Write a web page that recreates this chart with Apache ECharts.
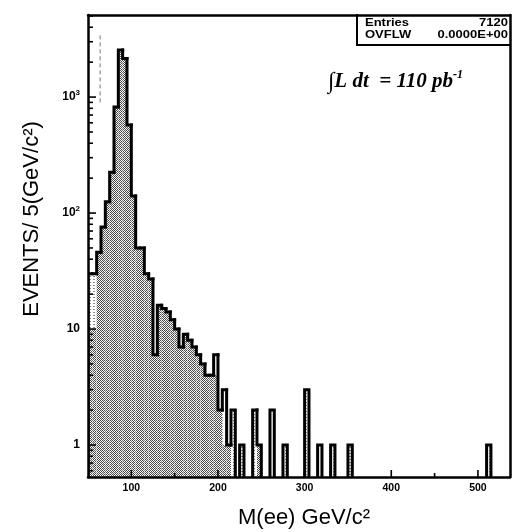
<!DOCTYPE html>
<html><head><meta charset="utf-8">
<script src="https://cdn.jsdelivr.net/npm/echarts@6/dist/echarts.min.js"></script>
<style>html,body{margin:0;padding:0;background:#fff}#c{width:513px;height:532px}</style>
</head><body><div id="c"></div>
<script>
// ---- data ----
const binWidth = 5;               // GeV per bin
const binLow = [50,55,60,65,70,75,80,85,90,95,100,105,110,115,120,125,130,135,140,145,150,155,160,165,170,175,180,185,190,195,200,205,210,215,225,240,245,260,275,300,315,330,350,510];
const totalCounts = [30,30,46,76,125,225,820,2540,2150,575,140,50,50,30,27,6,16,15,14,12,10,7,9,8,7,6,5,4,4,6,2,3,1,2,1,2,1,2,1,3,1,1,1,1];
const subsetCounts = [10,10,46,76,125,225,820,2540,2150,575,140,50,50,30,27,6,16,15,14,12,10,7,9,8,7,6,5,4,4,4,2,1,1,0,0,0,1,0,0,0,0,0,0,0];
const xTickLabels = [100,200,300,400,500];
const xMinorTicks = [150,250,350,450];
const yMajorTicks = [1,10,100,1000];
const yMinorTicks = [0.6,0.7,0.8,0.9,2,3,4,5,6,7,8,9,20,30,40,50,60,70,80,90,200,300,400,500,600,700,800,900,2000,3000,4000,5000];
const cutLine = [[64,900],[64,3600]];
const xMin = 50, xMax = 537, yMin = 0.53, yMax = 5100;

// ---- patterns ----
function makePattern(w,h,draw){const c=document.createElement('canvas');c.width=w;c.height=h;const g=c.getContext('2d');draw(g);return c;}
const stipple = makePattern(4,4,g=>{g.fillStyle='#fff';g.fillRect(0,0,4,4);g.fillStyle='#4a4a4a';
  for(let y=0;y<4;y++)for(let x=0;x<4;x++)if((x+y)%2===0)g.fillRect(x,y,1,1);
  g.fillStyle='#d8d8d8';g.fillRect(1,2,1,1);g.fillRect(3,0,1,1);});
const hatch = makePattern(4,3,g=>{g.fillStyle='#fff';g.fillRect(0,0,4,3);g.fillStyle='#8a8a8a';g.fillRect(1,0,2,1);});

// build histogram items: [low, total, subset, prevTotal, nextTotal]
const totalByLow = {};
binLow.forEach((b,i)=>{totalByLow[b]=totalCounts[i];});
const histData = binLow.map((b,i)=>[b,totalCounts[i],subsetCounts[i],totalByLow[b-binWidth]||0,totalByLow[b+binWidth]||0]);

function yPix(api,lo,v,yb){return v>0?api.coord([lo,v])[1]:yb;}

const chart = echarts.init(document.getElementById('c'),null,{renderer:'canvas'});
const axisLineStyle = {color:'#000',width:2.5};
chart.setOption({
  animation:false,
  backgroundColor:'#fff',
  grid:{left:88,right:3,top:15,bottom:55,outerBoundsMode:'none',containLabel:false},
  xAxis:[{
    type:'value',min:xMin,max:xMax,position:'bottom',splitNumber:5,z:10,
    axisLine:{show:true,onZero:false,lineStyle:axisLineStyle},
    axisTick:{show:false},minorTick:{show:false},splitLine:{show:false},
    axisLabel:{color:'#000',fontWeight:'bold',fontSize:10.5,fontFamily:'Liberation Sans',margin:6,
      formatter:v=>{const r=Math.round(v);return (Math.abs(v-r)<1e-6&&xTickLabels.indexOf(r)>=0)?String(r):'';}}
  },{
    type:'value',min:xMin,max:xMax,position:'top',z:10,
    axisLine:{show:true,onZero:false,lineStyle:axisLineStyle},
    axisTick:{show:false},axisLabel:{show:false},splitLine:{show:false}
  }],
  yAxis:[{
    type:'log',logBase:10,min:yMin,max:yMax,position:'left',z:10,
    axisLine:{show:true,onZero:false,lineStyle:axisLineStyle},
    axisTick:{show:false},minorTick:{show:false},splitLine:{show:false},minorSplitLine:{show:false},
    axisLabel:{color:'#000',fontWeight:'bold',fontSize:12,fontFamily:'Liberation Sans',margin:8,
      formatter:v=>{const e=Math.log10(v),r=Math.round(e);if(Math.abs(e-r)>1e-6)return '';if(r===0)return '1';if(r===1)return '10';return '10{s|'+r+'}';},
      rich:{s:{fontSize:8,fontWeight:'bold',fontFamily:'Liberation Sans',verticalAlign:'top',padding:[0,0,8,0]}}}
  },{
    type:'log',logBase:10,min:yMin,max:yMax,position:'right',z:10,
    axisLine:{show:true,onZero:false,lineStyle:axisLineStyle},
    axisTick:{show:false},axisLabel:{show:false},splitLine:{show:false}
  }],
  series:[
    { // fills
      type:'custom',xAxisIndex:0,yAxisIndex:0,clip:true,z:2,data:histData,encode:{x:0,y:1},
      renderItem:(params,api)=>{
        const lo=api.value(0),tot=api.value(1),sub=api.value(2);
        const yb=api.coord([lo,yMin])[1];
        const x0=api.coord([lo,1])[0],x1=api.coord([lo+binWidth,1])[0];
        const yt=yPix(api,lo,tot,yb),ys=yPix(api,lo,sub,yb);
        const ch=[{type:'rect',shape:{x:x0,y:yt,width:x1-x0,height:yb-yt},style:{fill:{image:hatch,repeat:'repeat'}}}];
        if(sub>0)ch.push({type:'rect',shape:{x:x0,y:ys,width:x1-x0,height:yb-ys},style:{fill:{image:stipple,repeat:'repeat'}}});
        return {type:'group',children:ch};
      }
    },
    { // outline
      type:'custom',xAxisIndex:0,yAxisIndex:0,clip:true,z:4,data:histData,encode:{x:0,y:1},
      renderItem:(params,api)=>{
        const lo=api.value(0),tot=api.value(1),prev=api.value(3),next=api.value(4);
        const yb=api.coord([lo,yMin])[1];
        const x0=api.coord([lo,1])[0],x1=api.coord([lo+binWidth,1])[0];
        const yt=yPix(api,lo,tot,yb),yp=yPix(api,lo,prev,yb);
        const pts=[[x0,yp],[x0,yt],[x1,yt]];
        if(!(next>0))pts.push([x1,yb]);
        return {type:'polyline',shape:{points:pts},style:{stroke:'#000',lineWidth:3,fill:null,lineJoin:'miter',lineCap:'square'}};
      }
    },
    { // x ticks (major + minor)
      type:'custom',xAxisIndex:0,yAxisIndex:0,clip:false,z:6,
      data:xTickLabels.map(v=>[v,7]).concat(xMinorTicks.map(v=>[v,4])),encode:{x:0},
      renderItem:(params,api)=>{
        const p=api.coord([api.value(0),yMin]);const L=api.value(1);
        return {type:'line',shape:{x1:p[0],y1:p[1],x2:p[0],y2:p[1]-L},style:{stroke:'#000',lineWidth:1.6}};
      }
    },
    { // y ticks (major + minor)
      type:'custom',xAxisIndex:0,yAxisIndex:0,clip:false,z:6,
      data:yMajorTicks.map(v=>[v,8]).concat(yMinorTicks.map(v=>[v,5])),encode:{y:0},
      renderItem:(params,api)=>{
        const p=api.coord([xMin,api.value(0)]);const L=api.value(1);
        return {type:'line',shape:{x1:p[0],y1:p[1],x2:p[0]+L,y2:p[1]},style:{stroke:'#000',lineWidth:1.6}};
      }
    },
    {
      type:'line',data:cutLine,symbol:'none',z:5,silent:true,
      lineStyle:{color:'#777',width:1,type:[4,3]}
    }
  ],
  graphic:[
    {type:'polyline',z:20,shape:{points:[[357,14],[357,45],[510,45]]},style:{stroke:'#000',lineWidth:2,fill:null}},
    {type:'text',z:20,x:365,y:23,scaleX:1.3,style:{text:'Entries',font:'bold 10px "Liberation Sans"',fill:'#000',align:'left',verticalAlign:'middle',textAlign:'left',textVerticalAlign:'middle'}},
    {type:'text',z:20,x:508,y:23,scaleX:1.3,style:{text:'7120',font:'bold 10px "Liberation Sans"',fill:'#000',align:'right',verticalAlign:'middle',textAlign:'right',textVerticalAlign:'middle'}},
    {type:'text',z:20,x:365,y:35,scaleX:1.3,style:{text:'OVFLW',font:'bold 10px "Liberation Sans"',fill:'#000',align:'left',verticalAlign:'middle',textAlign:'left',textVerticalAlign:'middle'}},
    {type:'text',z:20,x:508,y:35,scaleX:1.3,style:{text:'0.0000E+00',font:'bold 10px "Liberation Sans"',fill:'#000',align:'right',verticalAlign:'middle',textAlign:'right',textVerticalAlign:'middle'}},
    {type:'text',z:20,x:328,y:82,style:{
      text:'{i|∫}{m|L dt  = 110 pb}{s|-1}',align:'left',verticalAlign:'middle',textAlign:'left',textVerticalAlign:'middle',fill:'#000',
      rich:{
        i:{fontFamily:'Liberation Serif',fontSize:23,fontWeight:'bold',lineHeight:26,verticalAlign:'middle'},
        m:{fontFamily:'Liberation Serif',fontSize:21,fontWeight:'bold',fontStyle:'italic',lineHeight:26,verticalAlign:'middle'},
        s:{fontFamily:'Liberation Serif',fontSize:12,fontWeight:'bold',fontStyle:'italic',lineHeight:12,verticalAlign:'top'}
      }}},
    {type:'text',z:20,x:32,y:219,rotation:Math.PI/2,style:{text:'EVENTS/ 5(GeV/c²)',font:'22px "Liberation Sans"',fill:'#000',align:'center',verticalAlign:'middle',textAlign:'center',textVerticalAlign:'middle'}},
    {type:'text',z:20,x:304,y:518,style:{text:'M(ee) GeV/c²',font:'22px "Liberation Sans"',fill:'#000',align:'center',verticalAlign:'middle',textAlign:'center',textVerticalAlign:'middle'}}
  ]
});
</script>
</body></html>
